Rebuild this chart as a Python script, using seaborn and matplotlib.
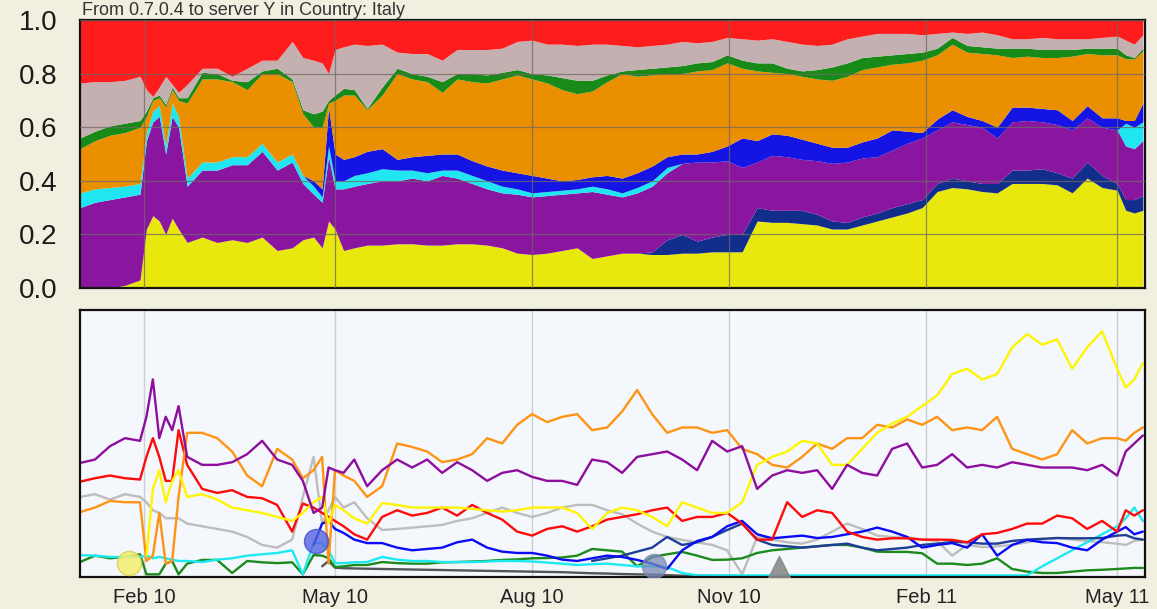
import numpy as np
import pandas as pd
import matplotlib
matplotlib.use("Agg")
import matplotlib.pyplot as plt
import matplotlib.dates as mdates
import seaborn as sns

nan = np.nan
title = "From 0.7.0.4 to server Y in Country: Italy"

early_dates = ["2010-01-02", "2010-01-09", "2010-01-16", "2010-01-23", "2010-01-30",
               "2010-02-02", "2010-02-05", "2010-02-08", "2010-02-11", "2010-02-14",
               "2010-02-17", "2010-02-21", "2010-02-28", "2010-03-07", "2010-03-14",
               "2010-03-21", "2010-03-28", "2010-04-04", "2010-04-11", "2010-04-16",
               "2010-04-21", "2010-04-25", "2010-04-28", "2010-05-01", "2010-05-05",
               "2010-05-10", "2010-05-16"]
weekly_dates = pd.date_range("2010-05-23", "2011-05-01", freq="7D")
late_dates = ["2011-05-05", "2011-05-09", "2011-05-13"]
dates = pd.DatetimeIndex(pd.to_datetime(early_dates)).append(weekly_dates).append(pd.to_datetime(late_dates))

# ---- upper chart: cumulative share (top edge of each stacked layer) ----
yellow_top = [0, 0, 0, 0.01, 0.03,
              0.22, 0.27, 0.25, 0.20, 0.26, 0.22, 0.17,
              0.19, 0.17, 0.18, 0.17, 0.19, 0.14, 0.15,
              0.18, 0.19, 0.15, 0.25, 0.22, 0.14, 0.15, 0.16,
              0.16, 0.165, 0.165, 0.16, 0.16, 0.165, 0.165, 0.16, 0.15, 0.13, 0.125, 0.13, 0.14, 0.15,
              0.11, 0.12, 0.13, 0.13, 0.125, 0.125, 0.13, 0.13, 0.135, 0.135, 0.135,
              0.25, 0.245, 0.245, 0.24, 0.235, 0.22, 0.22, 0.235, 0.25, 0.265, 0.28,
              0.30, 0.36, 0.375, 0.37, 0.36, 0.355, 0.39, 0.39, 0.39, 0.385, 0.355, 0.41, 0.375, 0.365, 0.29, 0.28, 0.29]
navy_top = [0, 0, 0, 0.01, 0.03,
            0.22, 0.27, 0.25, 0.20, 0.26, 0.22, 0.17,
            0.19, 0.17, 0.18, 0.17, 0.19, 0.14, 0.15,
            0.18, 0.19, 0.15, 0.25, 0.22, 0.14, 0.15, 0.16,
            0.16, 0.165, 0.165, 0.16, 0.16, 0.165, 0.165, 0.16, 0.15, 0.13, 0.125, 0.13, 0.14, 0.15,
            0.11, 0.12, 0.13, 0.13, 0.135, 0.18, 0.20, 0.175, 0.19, 0.20, 0.20,
            0.30, 0.29, 0.29, 0.29, 0.275, 0.25, 0.245, 0.265, 0.28, 0.30, 0.315,
            0.33, 0.39, 0.41, 0.40, 0.39, 0.39, 0.44, 0.44, 0.445, 0.43, 0.41, 0.47, 0.42, 0.39, 0.33, 0.33, 0.345]
purple_top = [0.30, 0.32, 0.33, 0.34, 0.35,
              0.55, 0.62, 0.64, 0.50, 0.64, 0.60, 0.38,
              0.44, 0.44, 0.46, 0.46, 0.51, 0.44, 0.47,
              0.39, 0.35, 0.32, 0.49, 0.37, 0.37, 0.38, 0.39,
              0.40, 0.40, 0.41, 0.40, 0.42, 0.41, 0.39, 0.37, 0.355, 0.35, 0.34, 0.345, 0.35, 0.355,
              0.36, 0.35, 0.34, 0.355, 0.38, 0.43, 0.465, 0.47, 0.47, 0.475, 0.45,
              0.47, 0.495, 0.49, 0.48, 0.475, 0.465, 0.47, 0.485, 0.49, 0.515, 0.54,
              0.56, 0.59, 0.62, 0.61, 0.60, 0.56, 0.62, 0.625, 0.62, 0.61, 0.59, 0.635, 0.60, 0.59, 0.53, 0.52, 0.55]
cyan_top = [0.355, 0.37, 0.375, 0.38, 0.39,
            0.58, 0.66, 0.68, 0.53, 0.69, 0.64, 0.41,
            0.47, 0.47, 0.49, 0.49, 0.54, 0.47, 0.50,
            0.42, 0.38, 0.34, 0.53, 0.40, 0.40, 0.42, 0.43,
            0.445, 0.44, 0.44, 0.43, 0.44, 0.44, 0.42, 0.40, 0.38, 0.37, 0.355, 0.36, 0.365, 0.37,
            0.38, 0.37, 0.355, 0.375, 0.40, 0.45, 0.465, 0.47, 0.47, 0.475, 0.45,
            0.47, 0.495, 0.49, 0.48, 0.475, 0.465, 0.47, 0.485, 0.49, 0.515, 0.54,
            0.56, 0.59, 0.62, 0.61, 0.60, 0.56, 0.62, 0.625, 0.62, 0.61, 0.59, 0.635, 0.60, 0.59, 0.615, 0.60, 0.62]
blue_top = [0.355, 0.37, 0.375, 0.38, 0.39,
            0.58, 0.66, 0.68, 0.53, 0.69, 0.64, 0.41,
            0.47, 0.47, 0.49, 0.49, 0.54, 0.47, 0.50,
            0.42, 0.40, 0.37, 0.675, 0.50, 0.48, 0.49, 0.51,
            0.52, 0.48, 0.49, 0.495, 0.50, 0.50, 0.475, 0.455, 0.44, 0.43, 0.42, 0.41, 0.40, 0.405,
            0.415, 0.42, 0.41, 0.43, 0.455, 0.49, 0.50, 0.50, 0.51, 0.53, 0.56,
            0.55, 0.575, 0.57, 0.555, 0.54, 0.525, 0.525, 0.545, 0.56, 0.59, 0.585,
            0.58, 0.63, 0.665, 0.64, 0.625, 0.60, 0.675, 0.675, 0.67, 0.665, 0.625, 0.68, 0.635, 0.635, 0.625, 0.625, 0.69]
orange_top = [0.52, 0.55, 0.57, 0.58, 0.60,
              0.64, 0.70, 0.71, 0.675, 0.74, 0.70, 0.69,
              0.78, 0.78, 0.77, 0.74, 0.80, 0.80, 0.77,
              0.65, 0.60, 0.60, 0.69, 0.70, 0.72, 0.72, 0.665,
              0.72, 0.80, 0.78, 0.77, 0.73, 0.78, 0.77, 0.765, 0.78, 0.795, 0.78, 0.765, 0.74, 0.725,
              0.735, 0.77, 0.80, 0.79, 0.795, 0.80, 0.80, 0.81, 0.815, 0.84, 0.82,
              0.81, 0.805, 0.80, 0.79, 0.78, 0.775, 0.79, 0.815, 0.825, 0.835, 0.84,
              0.85, 0.87, 0.91, 0.88, 0.875, 0.87, 0.86, 0.865, 0.86, 0.86, 0.865, 0.875, 0.87, 0.87, 0.855, 0.855, 0.885]
green_top = [0.56, 0.585, 0.605, 0.615, 0.625,
             0.66, 0.71, 0.72, 0.685, 0.75, 0.71, 0.71,
             0.805, 0.80, 0.775, 0.77, 0.81, 0.82, 0.78,
             0.665, 0.65, 0.66, 0.70, 0.72, 0.745, 0.74, 0.67,
             0.75, 0.82, 0.80, 0.79, 0.77, 0.80, 0.80, 0.795, 0.805, 0.815, 0.80, 0.795, 0.785, 0.775,
             0.775, 0.795, 0.81, 0.815, 0.82, 0.825, 0.83, 0.84, 0.845, 0.87, 0.85,
             0.84, 0.84, 0.82, 0.81, 0.815, 0.825, 0.84, 0.86, 0.865, 0.87, 0.875,
             0.88, 0.895, 0.935, 0.905, 0.90, 0.895, 0.895, 0.895, 0.89, 0.89, 0.89, 0.895, 0.895, 0.895, 0.87, 0.86, 0.895]
gray_top = [0.765, 0.77, 0.77, 0.775, 0.79,
            0.74, 0.715, 0.75, 0.79, 0.76, 0.73, 0.76,
            0.82, 0.82, 0.79, 0.82, 0.85, 0.85, 0.92,
            0.86, 0.85, 0.84, 0.80, 0.89, 0.90, 0.91, 0.905,
            0.91, 0.88, 0.875, 0.875, 0.85, 0.89, 0.89, 0.89, 0.895, 0.92, 0.925, 0.91, 0.91, 0.905,
            0.91, 0.91, 0.905, 0.90, 0.905, 0.91, 0.92, 0.915, 0.92, 0.935, 0.93,
            0.925, 0.93, 0.92, 0.91, 0.905, 0.91, 0.93, 0.94, 0.95, 0.95, 0.95,
            0.945, 0.95, 0.955, 0.95, 0.955, 0.945, 0.93, 0.93, 0.935, 0.93, 0.93, 0.93, 0.935, 0.94, 0.925, 0.91, 0.945]

# ---- lower chart: absolute values per version ----
purple_vals = [42.7, 44, 49, 52, 51,
               60, 74, 52, 60, 55, 64, 45,
               42, 42, 43, 46, 51, 44, 42,
               36, 24, 26, 41, 40, 39, 44, 34,
               40, 44, 41, 44, 39, 43, 40, 36, 39, 40, 37.5, 36, 36, 34.5,
               44, 43, 39, 45, 46, 47, 44, 40, 51, 47, 49,
               33, 38, 40, 39, 40, 33, 42, 39, 38, 48, 50,
               41, 42, 46, 41, 42, 41, 43, 42, 41, 41, 41, 40, 42, 38, 47, 50, 53]
orange_vals = [24.3, 26, 28.5, 28, 28,
               6, 8, 24, 5, 6, 30, 54,
               54, 52, 47, 38, 34, 48, 44,
               37, 40, 45, 5, 40, 38, 36, 30,
               34, 50, 48.7, 47, 43, 44, 46, 52, 50, 57, 61, 58, 60, 61,
               55, 56, 62, 70, 61, 54, 56, 56, 54, 55, 48,
               46, 42, 41, 45, 50, 48, 52, 52, 57, 56, 59,
               57, 60, 55, 56, 55, 60, 48, 46, 44, 46, 55, 50, 52, 52, 51, 54, 56]
yellow_vals = [nan, nan, nan, nan, nan,
               8, 33, 40, 28, 36, 40, 30,
               31, 29, 26, 25, 24, 22.5, 21,
               24, 28, 30, 20, 27, 25, 22, 20,
               27.7, 27, 26, 26, 26, 26, 25.5, 25, 24.5, 25, 26, 26, 26, 24,
               18, 24, 26, 25, 22.5, 19, 28, 26, 24, 24, 28,
               42, 45, 47, 51, 50, 42, 42, 48, 54, 57.5, 60,
               64, 68, 76, 78, 74, 76, 86, 91, 87, 89, 78, 86, 92, 78, 71, 74, 80]
red_vals = [35.7, 37, 38, 37, 36.5,
            45, 52, 45, 36, 36, 55, 42,
            33, 31.5, 32.5, 30, 29.5, 27, 17,
            27.5, 26, 24, 22.5, 21, 19, 16, 14,
            22.5, 25, 23, 24, 26, 23, 27, 24, 21.5, 17, 15.5, 18, 19, 17,
            19, 21.5, 22.5, 23.5, 25, 26, 21, 22.5, 22.5, 24, 20,
            14, 14, 28, 22.5, 25, 24, 17, 15, 14, 14.5, 14.5,
            14, 14, 13.9, 13, 16, 16.5, 18, 20, 20, 23, 22, 18, 21, 17, 25, 23, 25]
silver_vals = [30, 31, 29, 31, 30,
               28, 25, 24, 22, 22, 22, 20,
               19, 18, 17, 15, 12, 11, 14,
               30, 45, 20, 25, 30, 26, 28, 22,
               17.6, 18, 18.5, 19, 19.5, 21, 22, 24, 26, 24, 22.5, 24, 26, 27,
               27, 25, 23.5, 20, 17, 15, 13.9, 13, 12, 10, 1,
               15, 14, 13, 12.5, 14, 17, 20, 18, 15.5, 15, 15,
               14, 13.5, 8, 12, 11.2, 11.5, 12, 13, 14, 14.6, 14, 13.5, 13, 12.5, 12, 13.5, 14]
blue_vals = [nan, nan, nan, nan, nan,
             nan, nan, nan, nan, nan, nan, nan,
             nan, nan, nan, nan, nan, nan, nan,
             nan, 12, 20, 21, 18, 16.5, 14, 12.7,
             12.7, 11, 10, 10.5, 11, 13, 14, 11, 9.5, 9, 9, 8, 6.5, 6,
             7, 8, 7.5, 6.4, 5, 3, 10, 13.5, 15, 19, 21,
             16, 14.5, 15, 15.5, 14.6, 15, 16, 17, 18.5, 17, 15,
             11, 12, 12.7, 11, 16, 8, 12, 13.9, 13, 12.7, 11, 10, 14, 17, 18.7, 16, 17]
navy_vals = [nan] * 41 + [
             6, 7, 8, 9.5, 11, 15, 12, 13, 15, 17.6, 20,
             14, 12, 11.5, 11, 11.5, 12, 12.5, 11, 10, 10.5, 11,
             12, 12.5, 13.1, 13, 12.5, 12.5, 13.5, 14, 14.3, 14.6, 14.5, 14.5, 14.6, 15.5, 15.7, 14.5, 14]
green_vals = [5.6, 8, 7, 7.5, 8.5,
              1, 1, 1, 5, 6, 1, 5,
              6.4, 6.4, 1.5, 6, 5.5, 5.2, 5.5,
              1, 8.2, 8, 7, 3.7, 4, 4.5, 4.5,
              5.6, 5.2, 5, 5, 5.5, 5.6, 5.8, 6, 6.4, 6.6, 7, 7.1, 7.3, 8,
              10.5, 10, 9.5, 4, 7.5, 8.5, 9.4, 8, 6.4, 6.5, 7,
              9, 10, 10.5, 11, 11.5, 12, 12, 11, 9.5, 9.4, 9.4,
              8.9, 5, 5, 4.5, 5, 7, 3, 2, 1.5, 1.5, 2, 2.5, 2.7, 3, 3.2, 3.4, 3.4]
cyan_vals = [8.2, 8, 7.5, 7.5, 7.5,
             8, 7, 7.5, 7, 6.5, 6, 6,
             5.6, 6.5, 7, 8, 8.5, 9, 10,
             1, 12.7, 12.7, 10, 5.2, 5.2, 5.5, 5.6,
             7.5, 6.5, 6, 6, 5.6, 5.6, 5.6, 5.8, 6, 6, 5.8, 5.4, 5, 4.5,
             4.8, 5, 4.5, 4, 4, 3.7, 1.5, 0.6, 0.6, 0.6, 0.6,
             0.6, 0.6, 0.6, 0.6, 0.6, 0.6, 0.6, 0.6, 0.6, 0.6, 0.6,
             0.6, 0.6, 0.6, 0.6, 0.6, 0.6, 0.6, 0.6, 4, 7, 10, 13, 16, 19, 22, 26, 21]
darkgray_vals = [nan] * 21 + [
                 4, 6, 3.5, 3.3, 3.2, 3.1, 3, 2.9, 2.8, 2.7, 2.6, 2.5, 2.4, 2.3, 2.2, 2.1,
                 2, 1.9, 1.8, 1.6, 1.4, 1.3, 1.1, 1, 0.9, 0.7, 0.5, 0.5, 0.4, 0.4, 0.4] + [nan] * 28

event_dates = ["2010-01-25", "2010-04-22", "2010-09-27", "2010-11-24"]
event_values = [5.2, 13.5, 4.1, 3.7]

for arr in [yellow_top, navy_top, purple_top, cyan_top, blue_top, orange_top, green_top, gray_top,
            purple_vals, orange_vals, yellow_vals, red_vals, silver_vals, blue_vals, navy_vals,
            green_vals, cyan_vals, darkgray_vals]:
    assert len(arr) == len(dates), len(arr)

# ---------------- styling ----------------
sns.set_style("white")
plt.rcParams["font.family"] = ["Liberation Sans", "DejaVu Sans"]

BG = "#F1EFDF"
fig = plt.figure(figsize=(11.57, 6.09), dpi=100)
fig.patch.set_facecolor(BG)

W, H = 1157, 609
def box(l, t, r, b):
    return [l / W, 1 - b / H, (r - l) / W, (b - t) / H]

ax1 = fig.add_axes(box(80, 20, 1145, 288))
ax2 = fig.add_axes(box(80, 310, 1145, 577))

x = dates.values
zeros = np.zeros(len(dates))
ones = np.ones(len(dates))
stack = [
    (zeros, yellow_top, "#E8E80C"),
    (yellow_top, navy_top, "#122E8C"),
    (navy_top, purple_top, "#8A16A0"),
    (purple_top, cyan_top, "#20E6F2"),
    (cyan_top, blue_top, "#1414E4"),
    (blue_top, orange_top, "#EA8F00"),
    (orange_top, green_top, "#178A17"),
    (green_top, gray_top, "#C4B0B0"),
    (gray_top, ones, "#FF1C1C"),
]
for lo, hi, col in stack:
    ax1.fill_between(x, lo, hi, color=col, linewidth=0, zorder=1)

xmin, xmax = pd.Timestamp("2010-01-02"), pd.Timestamp("2011-05-14")
loc = mdates.MonthLocator(bymonth=[2, 5, 8, 11])
for ax in (ax1, ax2):
    ax.set_xlim(xmin, xmax)
    ax.xaxis.set_major_locator(loc)
    ax.xaxis.set_major_formatter(mdates.DateFormatter("%b %y"))
    for s in ax.spines.values():
        s.set_color("#111111")
        s.set_linewidth(1.6)
        s.set_visible(True)

ax1.set_ylim(0, 1)
ax1.set_yticks([0, 0.2, 0.4, 0.6, 0.8, 1.0])
ax1.set_yticklabels(["0.0", "0.2", "0.4", "0.6", "0.8", "1.0"])
ax1.tick_params(axis="y", length=0, pad=16, labelsize=20, labelcolor="#1A1A1A")
ax1.tick_params(axis="x", length=0, labelbottom=False)
ax1.set_axisbelow(False)
ax1.grid(True, color="#6E6A64", linewidth=0.9, alpha=0.75, zorder=3)
ax1.set_xlabel("")
ax1.set_ylabel("")

# lower chart
ax2.set_facecolor("#F4F7FB")
series = {
    "darkgray": darkgray_vals, "silver": silver_vals, "green": green_vals, "cyan": cyan_vals,
    "navy": navy_vals, "blue": blue_vals, "red": red_vals, "orange": orange_vals,
    "yellow": yellow_vals, "purple": purple_vals,
}
palette = {
    "darkgray": "#555555", "silver": "#BDBDBD", "green": "#1C8A1C", "cyan": "#1BEAF2",
    "navy": "#1F3D95", "blue": "#0A0AF5", "red": "#FF0A0A", "orange": "#FF9414",
    "yellow": "#FFF500", "purple": "#8E0E9E",
}
df = pd.DataFrame({"date": dates, **series}).melt(id_vars="date", var_name="series", value_name="value")
df = df.dropna()
sns.lineplot(data=df, x="date", y="value", hue="series", hue_order=list(series.keys()),
             palette=palette, linewidth=1.7, legend=False, ax=ax2, estimator=None, zorder=2)

ev = pd.to_datetime(event_dates)
ax2.scatter(ev[0:1], event_values[0:1], s=300, color="#F4EE70", edgecolor="#D6D050", alpha=0.85, zorder=4)
ax2.scatter(ev[1:2], event_values[1:2], s=300, color="#5562E0", edgecolor="#4050C8", alpha=0.8, zorder=4)
ax2.scatter(ev[2:3], event_values[2:3], s=300, color="#7888B8", alpha=0.75, zorder=4)
ax2.scatter(ev[3:4], event_values[3:4], s=260, marker="^", color="#8A8A8A", alpha=0.9, zorder=4)

ax2.set_ylim(0, 100)
ax2.set_yticks([])
ax2.tick_params(axis="x", length=0, pad=8, labelsize=14.5, labelcolor="#222222")
ax2.grid(True, axis="x", color="#CBCFD4", linewidth=1.0)
ax2.grid(False, axis="y")
ax2.set_axisbelow(True)
ax2.set_xlabel("")
ax2.set_ylabel("")

fig.text(82 / W, 1 - 15 / H, title, fontsize=13, color="#333333",
         ha="left", va="baseline")

fig.savefig("out.png", dpi=100, facecolor=BG)
